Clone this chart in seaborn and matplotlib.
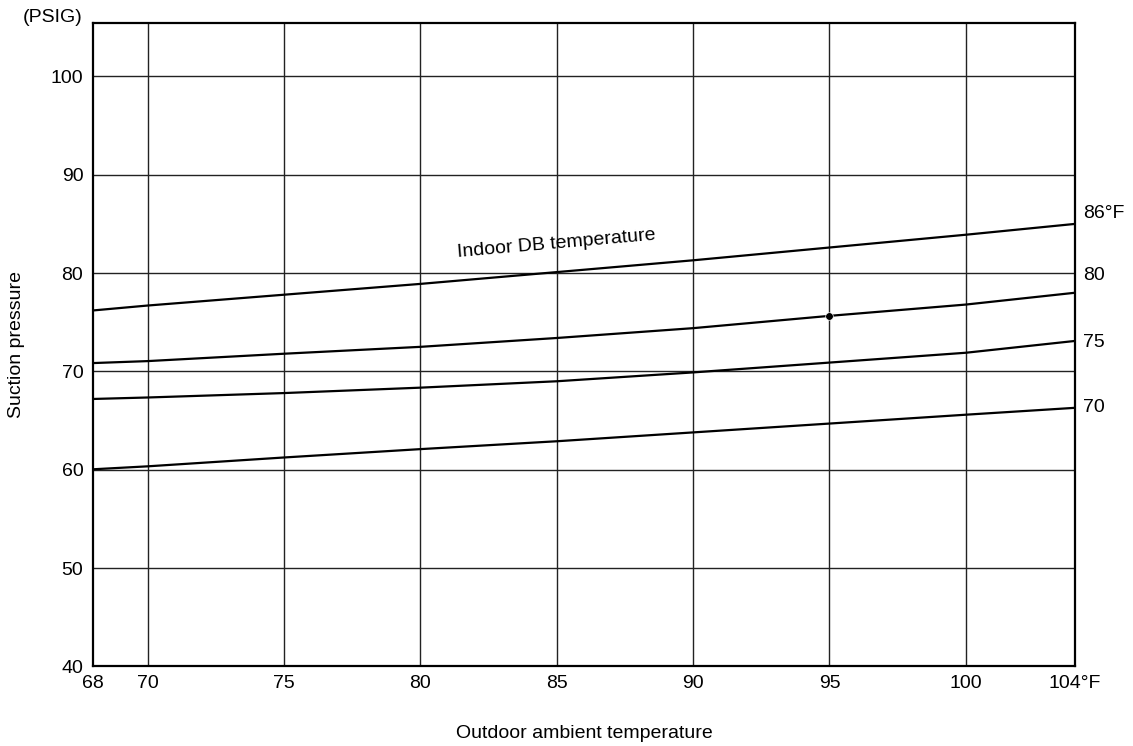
import matplotlib
matplotlib.use("Agg")
import matplotlib.pyplot as plt
import matplotlib.transforms as mtransforms
import pandas as pd
import seaborn as sns

# outdoor ambient temperature (F)
outdoor = [68, 70, 75, 80, 85, 90, 95, 100, 104]

# suction pressure (PSIG) for each indoor DB temperature
p86 = [76.2, 76.7, 77.8, 78.9, 80.1, 81.3, 82.6, 83.9, 85.0]
p80 = [70.85, 71.05, 71.8, 72.5, 73.4, 74.4, 75.65, 76.8, 78.0]
p75 = [67.2, 67.35, 67.8, 68.35, 69.0, 69.9, 70.9, 71.9, 73.1]
p70 = [60.05, 60.35, 61.25, 62.1, 62.9, 63.8, 64.7, 65.6, 66.3]

curve_names = ["86", "80", "75", "70"]
end_labels = ["86°F", "80", "75", "70"]
end_label_y = [86.1, 79.8, 72.9, 66.3]

point_x = [95]
point_y = [75.65]

x_ticks = [68, 70, 75, 80, 85, 90, 95, 100, 104]
x_tick_labels = ["68", "70", "75", "80", "85", "90", "95", "100", "104°F"]
y_ticks = [40, 50, 60, 70, 80, 90, 100]

rows = []
for name, vals in zip(curve_names, [p86, p80, p75, p70]):
    for x, y in zip(outdoor, vals):
        rows.append({"outdoor": x, "pressure": y, "indoor": name})
df = pd.DataFrame(rows)

sns.set_style("white")
plt.rcParams["font.family"] = ["Liberation Sans", "DejaVu Sans"]
plt.rcParams["font.size"] = 14
for k in ["text.color", "axes.labelcolor", "xtick.color", "ytick.color"]:
    plt.rcParams[k] = "black"

fs = 14

fig = plt.figure(figsize=(11.33, 7.46), dpi=100)
ax = fig.add_axes([0.0821, 0.1066, 0.8667, 0.8622])

sns.lineplot(data=df, x="outdoor", y="pressure", hue="indoor",
             palette={n: "black" for n in curve_names}, linewidth=1.6,
             legend=False, ax=ax)
sns.scatterplot(x=point_x, y=point_y, color="black", s=30, ax=ax, zorder=5)

ax.set_xlim(68, 104)
ax.set_ylim(40, 105.4)
ax.set_xticks(x_ticks)
ax.set_xticklabels(x_tick_labels)
ax.set_yticks(y_ticks)
ax.tick_params(axis="both", length=0, labelsize=fs, colors="black")
ax.tick_params(axis="x", pad=6)
ax.tick_params(axis="y", pad=7)

for x in x_ticks[1:-1]:
    ax.axvline(x, color="#222222", lw=1, zorder=1)
for y in y_ticks[1:]:
    ax.axhline(y, color="#222222", lw=1, zorder=1)

for sp in ax.spines.values():
    sp.set_visible(True)
    sp.set_color("black")
    sp.set_linewidth(1.6)

ax.set_xlabel("Outdoor ambient temperature", fontsize=fs)
ax.set_ylabel("Suction pressure", fontsize=fs)
ax.xaxis.set_label_coords(0.5, -0.091)
ax.yaxis.set_label_coords(-0.069, 0.5)

trans = mtransforms.blended_transform_factory(ax.transAxes, ax.transData)
for lab, y in zip(end_labels, end_label_y):
    ax.text(1.008, y, lab, transform=trans, ha="left", va="center", fontsize=fs)

ax.text(85.0, 82.95, "Indoor DB temperature", rotation=5, rotation_mode="anchor",
        ha="center", va="center", fontsize=fs)

fig.text(83 / 1133, 1 - 17 / 746, "(PSIG)", ha="right", va="center", fontsize=fs)

fig.savefig("out.png", dpi=100)
